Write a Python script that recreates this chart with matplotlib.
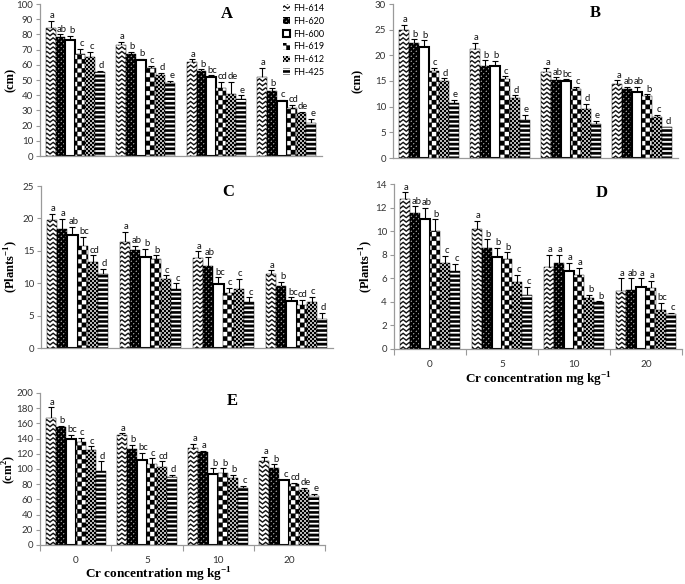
import numpy as np
import matplotlib
matplotlib.use('Agg')
import matplotlib.pyplot as plt
import matplotlib.hatch as mhatch
from matplotlib.patches import Patch
from matplotlib.path import Path

varieties = ['FH-614', 'FH-620', 'FH-600', 'FH-619', 'FH-612', 'FH-425']
cr_levels = ['0', '5', '10', '20']

# rows = varieties, columns = Cr level (0, 5, 10, 20)
a_mean = [[84, 73, 62, 52], [78, 67, 56, 43], [76, 63, 52, 36],
          [67, 58, 45, 31.5], [65, 53, 41, 28], [55, 48, 37.5, 21.5]]
a_err = [[5, 2, 1.5, 6], [2, 1.5, 1, 1.5], [3, 1, 1, 1],
         [3.5, 1.5, 4, 2], [3.5, 1.5, 8, 1], [1, 1.5, 2.5, 3]]
a_let = [['a', 'a', 'a', 'a'], ['ab', 'b', 'b', 'b'], ['b', 'b', 'bc', 'c'],
         ['c', 'c', 'cd', 'cd'], ['c', 'd', 'de', 'de'], ['d', 'e', 'e', 'e']]

b_mean = [[24.9, 21.3, 16.7, 14.5], [22.4, 18, 15.2, 13.4], [21.6, 17.9, 15, 12.9],
          [17, 15.4, 13.5, 12.1], [15, 11.6, 9.6, 7.9], [10.8, 7.5, 6.6, 6.0]]
b_err = [[1, 1.1, 0.8, 0.6], [0.7, 1, 0.5, 0.4], [1.3, 1, 0.3, 1],
         [0.6, 0.5, 0.4, 0.3], [0.5, 0.6, 0.9, 0.5], [0.5, 0.9, 0.7, 0.1]]
b_let = [['a', 'a', 'a', 'a'], ['b', 'b', 'ab', 'ab'], ['b', 'b', 'bc', 'ab'],
         ['c', 'c', 'c', 'b'], ['d', 'd', 'd', 'c'], ['e', 'e', 'e', 'd']]

c_mean = [[19.7, 16.4, 13.9, 11.4], [18.3, 15.1, 12.7, 9.5], [17.4, 14.0, 9.9, 7.3],
          [15.8, 13.8, 8.5, 6.6], [13.2, 10.6, 9.1, 7.1], [11.4, 9.1, 7.1, 4.4]]
c_err = [[1.0, 1.5, 1.0, 0.6], [1.6, 0.7, 1.3, 0.7], [1.3, 1.3, 1.0, 0.5],
         [1.3, 0.5, 0.8, 0.8], [1.1, 0.6, 1.6, 0.8], [0.8, 0.9, 0.7, 1.0]]
c_let = [['a', 'a', 'a', 'a'], ['a', 'ab', 'ab', 'b'], ['ab', 'b', 'bc', 'bc'],
         ['bc', 'b', 'c', 'cd'], ['cd', 'c', 'c', 'c'], ['d', 'c', 'c', 'd']]

d_mean = [[12.7, 10.2, 7.0, 4.9], [11.5, 8.6, 7.3, 5.0], [11.0, 7.8, 6.6, 5.3],
          [10.0, 7.6, 6.3, 5.2], [7.3, 5.7, 4.3, 3.3], [6.6, 4.6, 4.0, 3.0]]
d_err = [[0.6, 0.7, 1.0, 1.1], [0.6, 0.7, 0.7, 1.0], [1.0, 0.8, 0.7, 0.7],
         [1.0, 0.6, 0.6, 0.6], [0.6, 0.6, 0.3, 0.6], [0.6, 0.7, 0.05, 0.05]]
d_let = [['a', 'a', 'a', 'a'], ['ab', 'b', 'a', 'ab'], ['ab', 'b', 'a', 'a'],
         ['b', 'b', 'a', 'a'], ['c', 'c', 'b', 'bc'], ['c', 'c', 'b', 'c']]

e_mean = [[167, 145, 128, 110], [155, 126, 122, 101], [140, 112, 93, 85],
          [135, 107, 95, 80], [125, 102, 88, 72], [98, 89, 75, 65]]
e_err = [[14, 2, 5, 6], [2, 6, 2, 5], [5, 9, 8, 1],
         [6, 7, 6, 2], [5, 8, 4, 3], [12, 3, 3, 2]]
e_let = [['a', 'a', 'a', 'a'], ['b', 'b', 'a', 'b'], ['bc', 'bc', 'b', 'c'],
         ['c', 'c', 'b', 'cd'], ['c', 'cd', 'b', 'de'], ['d', 'd', 'c', 'e']]


# ---- custom fill patterns (filled polygons inside the unit hatch tile) ----
def zigzag(nrow, ncol, amp, thick):
    xs = np.linspace(0.0, 1.0, 2 * ncol + 1)
    bump = np.where(np.arange(xs.size) % 2 == 1, amp, 0.0)
    polys = []
    for k in range(-1, nrow + 1):
        y0 = k / nrow
        top = np.column_stack([xs, y0 + bump + thick])
        bot = np.column_stack([xs[::-1], (y0 + bump)[::-1]])
        polys.append(np.vstack([top, bot]))
    return polys


def checker(n, grow=0.0):
    c = 1.0 / n
    g = grow * c
    polys = []
    for i in range(-1, n + 1):
        for j in range(-1, n + 1):
            if (i + j) % 2 == 0:
                x0, y0 = i * c - g, j * c - g
                x1, y1 = (i + 1) * c + g, (j + 1) * c + g
                polys.append(np.array([[x0, y0], [x1, y0], [x1, y1], [x0, y1]]))
    return polys


def stripes(n, frac):
    polys = []
    for k in range(n):
        y0 = k / n
        y1 = y0 + frac / n
        polys.append(np.array([[0, y0], [1, y0], [1, y1], [0, y1]]))
    return polys


class TileHatch(mhatch.HatchPatternBase):
    shapes = {}

    def __init__(self, hatch, density):
        self.polys = [p for ch, ps in self.shapes.items() if ch in hatch for p in ps]
        self.num_vertices = sum(len(p) + 1 for p in self.polys)

    def set_vertices_and_codes(self, vertices, codes):
        i = 0
        for p in self.polys:
            n = len(p)
            vertices[i:i + n] = p
            vertices[i + n] = p[0]
            codes[i] = Path.MOVETO
            codes[i + 1:i + n] = Path.LINETO
            codes[i + n] = Path.CLOSEPOLY
            i += n + 1


TileHatch.shapes = {
    'z': zigzag(22, 16, 0.024, 0.013),
    'k': checker(40, 0.22),
    'q': checker(22),
    'g': checker(50),
    'h': stripes(22, 0.55),
}
mhatch._hatch_types.append(TileHatch)
mhatch._validate_hatch_pattern = lambda hatch: None

hatches = ['z', 'k', '', 'q', 'g', 'h']
edge_lw = [0.3, 0.3, 1.5, 0.3, 0.3, 0.3]

plt.rcParams['font.family'] = ['Lato', 'DejaVu Sans']
plt.rcParams['hatch.linewidth'] = 0.2
plt.rcParams['mathtext.fontset'] = 'custom'
plt.rcParams['mathtext.rm'] = 'Liberation Serif'
plt.rcParams['mathtext.bf'] = 'Liberation Serif:bold'

SERIF = 'Liberation Serif'
GRAY = '#9a9a9a'
W, H = 685, 584

fig = plt.figure(figsize=(W / 100, H / 100), dpi=100)

panels = [
    # letter, means, errs, letters, (l, t, r, b) px, ymax, step, ylabel, ylabel x px, letter pos px, xlabel x px
    ('A', a_mean, a_err, a_let, (40, 4, 322, 156), 100, 10, '(cm)', 11, (227, 14), None),
    ('B', b_mean, b_err, b_let, (393, 4, 678, 158), 30, 5, '(cm)', 358, (595, 13), None),
    ('C', c_mean, c_err, c_let, (41, 186, 333, 348), 25, 5, r'(Plants$^{\mathbf{-1}}$)', 11, (228, 192), None),
    ('D', d_mean, d_err, d_let, (394, 184, 682, 349), 14, 2, r'(Plants$^{\mathbf{-1}}$)', 366, (602, 193), 538),
    ('E', e_mean, e_err, e_let, (40, 393, 325, 545), 200, 20, r'(cm$^{\mathbf{2}}$)', 9, (232, 401), 158),
]

n_var = len(varieties)
bw = 0.14
x = np.arange(len(cr_levels))

for name, means, errs, lets, (l, t, r, b), ymax, step, ylab, ylx, lpos, xlx in panels:
    ax = fig.add_axes([l / W, 1 - b / H, (r - l) / W, (b - t) / H])
    for i in range(n_var):
        xi = x + (i - (n_var - 1) / 2) * bw
        m = np.array(means[i], dtype=float)
        e = np.array(errs[i], dtype=float)
        ax.bar(xi, m, width=bw, facecolor='white', edgecolor='black',
               hatch=hatches[i], linewidth=edge_lw[i], zorder=2)
        ax.errorbar(xi, m, yerr=e, fmt='none', ecolor='black', elinewidth=0.8,
                    capsize=2.3, capthick=0.8, zorder=1.5)
        for xx, top, lab in zip(xi, m + e, lets[i]):
            ax.annotate(lab, (xx, top), xytext=(1, 0.5), textcoords='offset points',
                        ha='center', va='bottom', fontsize=6.8, color='#111111')

    ax.set_xlim(-0.5, 3.5)
    ax.set_ylim(0, ymax)
    ax.set_yticks(np.arange(0, ymax + step / 2, step))
    for s in ['top', 'right']:
        ax.spines[s].set_visible(False)
    for s in ['left', 'bottom']:
        ax.spines[s].set_color(GRAY)
        ax.spines[s].set_linewidth(0.9)
    ax.tick_params(axis='y', direction='out', length=3, width=0.8, color=GRAY,
                   labelsize=7, labelcolor='#333333', pad=2)
    ax.set_ylabel(ylab, fontfamily=SERIF, fontweight='bold',
                  fontsize=8.5 if name == 'E' else 9, va='center')
    ax.yaxis.set_label_coords((ylx - l) / (r - l), 0.5)

    if xlx is None:
        ax.set_xticks([])
    else:
        ax.set_xticks(x)
        ax.set_xticklabels(cr_levels)
        ax.set_xticks([-0.5, 0.5, 1.5, 2.5, 3.5], minor=True)
        ax.tick_params(axis='x', which='major', length=0, labelsize=7.2,
                       labelcolor='#333333', pad=8)
        ax.tick_params(axis='x', which='minor', direction='out', length=4,
                       width=0.8, color=GRAY)
        ax.set_xlabel(r'Cr concentration mg kg$^{\mathbf{-1}}$', fontfamily=SERIF,
                      fontweight='bold', fontsize=9.5, va='center')
        xl_y = 380 if name == 'D' else 575
        ax.xaxis.set_label_coords((xlx - l) / (r - l), -(xl_y - b) / (b - t))

    fig.text(lpos[0] / W, 1 - lpos[1] / H, name, fontfamily=SERIF, fontweight='bold',
             fontsize=12, ha='center', va='center')

handles = [Patch(facecolor='white', edgecolor='black', hatch=hatches[i],
                 linewidth=edge_lw[i] if hatches[i] == '' else 0) for i in range(n_var)]
fig.legend(handles, varieties, loc='upper left', bbox_to_anchor=(283 / W, 1 - 4 / H),
           frameon=False, fontsize=6.5, handlelength=0.8, handleheight=0.8,
           handletextpad=0.35, labelspacing=0.42, borderpad=0, borderaxespad=0)

fig.savefig('out.png', dpi=100)
